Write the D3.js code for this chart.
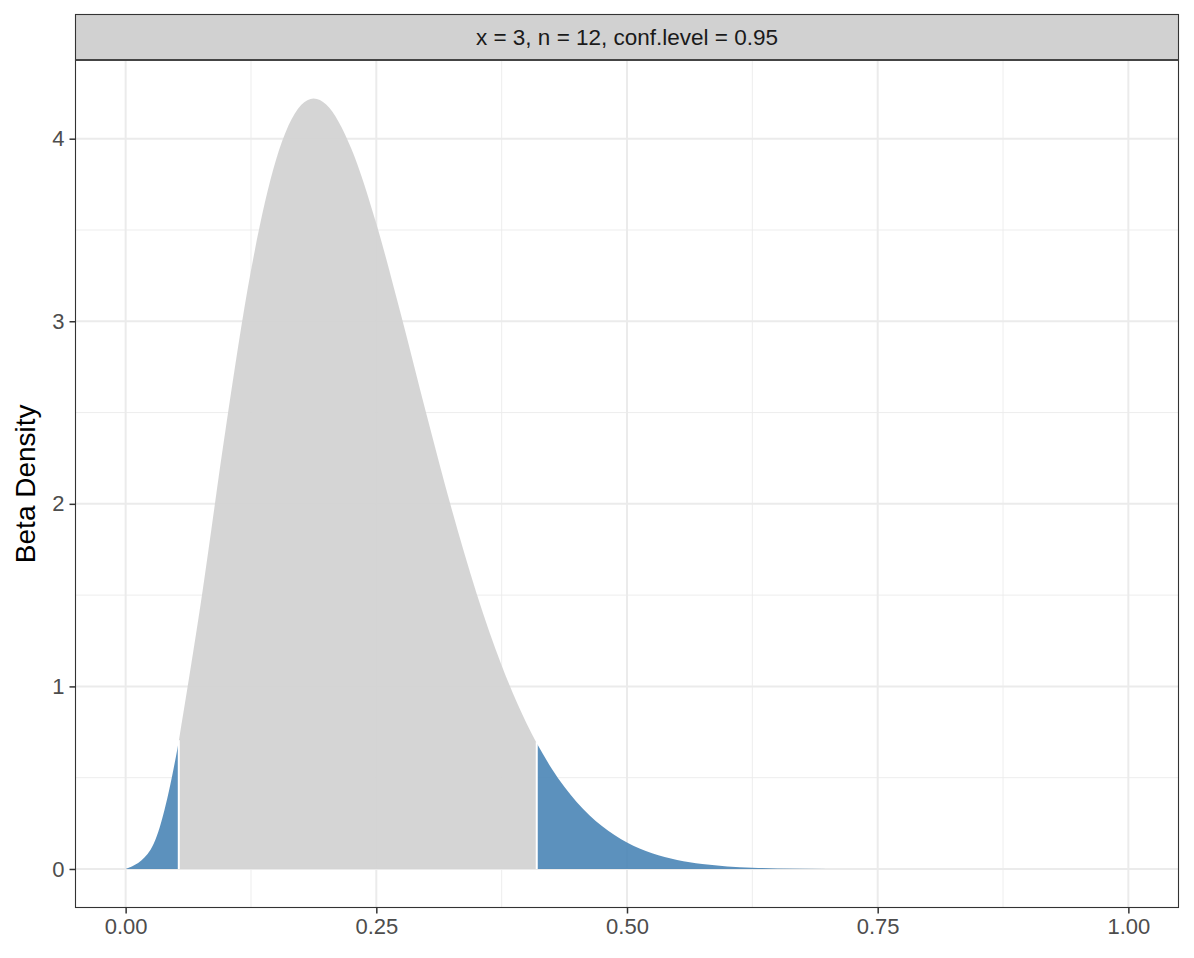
<!DOCTYPE html>
<html>
<head>
<meta charset="utf-8">
<style>
  body { margin: 0; background: #fff; }
  svg { display: block; font-family: 'Liberation Sans', Arial, Helvetica, sans-serif; }
</style>
</head>
<body>
<svg id="chart" width="1194" height="958"></svg>
<script src="https://d3js.org/d3.v7.min.js"></script>
<script>
// density values
const xs = [0, 0.025, 0.05, 0.053, 0.075, 0.1, 0.125, 0.15, 0.175, 0.1875, 0.2, 0.225, 0.25,
  0.275, 0.3, 0.325, 0.35, 0.375, 0.4, 0.41, 0.425, 0.45, 0.475, 0.5, 0.525, 0.55, 0.575,
  0.6, 0.625, 0.65, 0.7, 0.75, 0.8, 0.9, 1.0];
const density = [0, 0.107, 0.611, 0.70, 1.458, 2.42, 3.278, 3.884, 4.184, 4.22, 4.187, 3.946, 3.534,
  3.027, 2.49, 1.974, 1.509, 1.115, 0.796, 0.689, 0.549, 0.366, 0.235, 0.145, 0.086, 0.049, 0.027,
  0.014, 0.007, 0.003, 0.0005, 0, 0, 0, 0];
const cuts = [0.053, 0.41];
const xTicks = [0, 0.25, 0.5, 0.75, 1];
const yTicks = [0, 1, 2, 3, 4];
const stripLabel = "x = 3, n = 12, conf.level = 0.95";

const data = xs.map((x, i) => ({ x: x, d: density[i] }));

const svg = d3.select("#chart");
const pLeft = 75.5, pRight = 1178.5, pTop = 60, pBottom = 907.5;

const x = d3.scaleLinear().domain([-0.05, 1.05]).range([pLeft, pRight]);
const ymax = d3.max(density);
const y = d3.scaleLinear().domain([-0.05 * ymax, ymax * 1.05]).range([pBottom, pTop]);

// grid
const grid = svg.append("g");
const xMinor = xTicks.slice(1).map((t, i) => (t + xTicks[i]) / 2);
const yMinor = yTicks.slice(1).map((t, i) => (t + yTicks[i]) / 2);
grid.selectAll(".xmin").data(xMinor).join("line")
  .attr("x1", d => x(d)).attr("x2", d => x(d)).attr("y1", pTop).attr("y2", pBottom)
  .attr("stroke", "#ebebeb").attr("stroke-width", 0.9);
grid.selectAll(".ymin").data(yMinor).join("line")
  .attr("y1", d => y(d)).attr("y2", d => y(d)).attr("x1", pLeft).attr("x2", pRight)
  .attr("stroke", "#ebebeb").attr("stroke-width", 0.9);
grid.selectAll(".xmaj").data(xTicks).join("line")
  .attr("x1", d => x(d)).attr("x2", d => x(d)).attr("y1", pTop).attr("y2", pBottom)
  .attr("stroke", "#ebebeb").attr("stroke-width", 2);
grid.selectAll(".ymaj").data(yTicks).join("line")
  .attr("y1", d => y(d)).attr("y2", d => y(d)).attr("x1", pLeft).attr("x2", pRight)
  .attr("stroke", "#ebebeb").attr("stroke-width", 2);

// areas
const area = d3.area()
  .x(d => x(d.x))
  .y0(y(0))
  .y1(d => y(d.d))
  .curve(d3.curveMonotoneX);

const lowTail = data.filter(d => d.x <= cuts[0]);
const middle = data.filter(d => d.x >= cuts[0] && d.x <= cuts[1]);
const highTail = data.filter(d => d.x >= cuts[1]);

svg.append("path").datum(lowTail).attr("d", area)
  .attr("fill", "steelblue").attr("fill-opacity", 0.88);
svg.append("path").datum(middle).attr("d", area)
  .attr("fill", "lightgray").attr("fill-opacity", 0.95);
svg.append("path").datum(highTail).attr("d", area)
  .attr("fill", "steelblue").attr("fill-opacity", 0.88);

// white separators at the interval limits
svg.selectAll(".cut").data(cuts).join("line")
  .attr("x1", d => x(d)).attr("x2", d => x(d))
  .attr("y1", y(0))
  .attr("y2", d => y(density[xs.indexOf(d)]) - 1)
  .attr("stroke", "#fff").attr("stroke-width", 2);

// panel border
svg.append("rect")
  .attr("x", pLeft).attr("y", pTop).attr("width", pRight - pLeft).attr("height", pBottom - pTop)
  .attr("fill", "none").attr("stroke", "#333").attr("stroke-width", 1.1);

// strip
svg.append("rect")
  .attr("x", pLeft).attr("y", 14.5).attr("width", pRight - pLeft).attr("height", pTop - 14.5)
  .attr("fill", "#d1d1d1").attr("stroke", "#333").attr("stroke-width", 1.1);
svg.append("line")
  .attr("x1", pLeft).attr("x2", pRight).attr("y1", pTop).attr("y2", pTop)
  .attr("stroke", "#444").attr("stroke-width", 2.2);
svg.append("text")
  .attr("x", (pLeft + pRight) / 2).attr("y", 37.5)
  .attr("text-anchor", "middle").attr("dominant-baseline", "central")
  .attr("font-size", 22.5).attr("fill", "#1a1a1a")
  .text(stripLabel);

// axes
const xAxis = svg.append("g")
  .attr("transform", `translate(0,${pBottom})`)
  .call(d3.axisBottom(x).tickValues(xTicks).tickFormat(d3.format(".2f")).tickSize(6).tickPadding(5));
const yAxis = svg.append("g")
  .attr("transform", `translate(${pLeft},0)`)
  .call(d3.axisLeft(y).tickValues(yTicks).tickFormat(d3.format("d")).tickSize(6).tickPadding(5));
[xAxis, yAxis].forEach(a => {
  a.select(".domain").remove();
  a.selectAll(".tick text").attr("font-size", 22).attr("fill", "#4d4d4d")
    .attr("font-family", "'Liberation Sans', Arial, Helvetica, sans-serif");
  a.selectAll(".tick line").attr("stroke", "#333").attr("stroke-width", 1.5);
});

// y title
svg.append("text")
  .attr("transform", `translate(35,${(pTop + pBottom) / 2}) rotate(-90)`)
  .attr("text-anchor", "middle")
  .attr("font-size", 28)
  .attr("fill", "#000")
  .text("Beta Density");
</script>
</body>
</html>
